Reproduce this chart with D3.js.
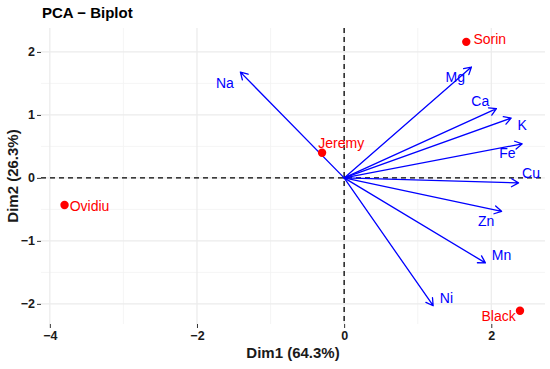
<!DOCTYPE html>
<html>
<head>
<meta charset="utf-8">
<script src="https://cdn.jsdelivr.net/npm/d3@7"></script>
<style>
  body { margin: 0; background: #fff; }
  text { font-family: "Liberation Sans", Arial, sans-serif; }
</style>
</head>
<body>
<div id="app"></div>
<script>
// individuals (rows) - coordinates on Dim1 / Dim2
const IND_NAMES = ['Ovidiu', 'Jeremy', 'Sorin', 'Black'];
const IND_X = [-3.80, -0.30, 1.66, 2.39];
const IND_Y = [-0.43, 0.40, 2.16, -2.11];
// where the repelled labels ended up (data units)
const IND_LABEL_X = [-3.46, -0.04, 1.98, 2.10];
const IND_LABEL_Y = [-0.44, 0.56, 2.21, -2.19];

// variables (columns) - arrow tips
const VAR_NAMES = ['Na', 'Mg', 'Ca', 'K', 'Fe', 'Cu', 'Zn', 'Mn', 'Ni'];
const VAR_X = [-1.41, 1.73, 2.07, 2.27, 2.42, 2.37, 2.14, 1.92, 1.21];
const VAR_Y = [1.68, 1.76, 1.10, 0.95, 0.54, -0.08, -0.53, -1.35, -2.03];
const VAR_LABEL_X = [-1.62, 1.51, 1.85, 2.42, 2.22, 2.54, 1.93, 2.14, 1.39];
const VAR_LABEL_Y = [1.51, 1.60, 1.22, 0.84, 0.40, 0.08, -0.68, -1.22, -1.90];

const X_TICKS = [-4, -2, 0, 2];
const Y_TICKS = [-2, -1, 0, 1, 2];
const X_MINOR = [-3, -1, 1];
const Y_MINOR = [-1.5, -0.5, 0.5, 1.5];

const TITLE = 'PCA \u2212 Biplot';
const X_TITLE = 'Dim1 (64.3%)';
const Y_TITLE = 'Dim2 (26.3%)';

const width = 550;
const height = 369;
const panel = {left: 41, right: 545, top: 28, bottom: 324};

const svg = d3.select('#app')
  .append('svg')
  .attr('width', width)
  .attr('height', height);

const x = d3.scaleLinear()
  .domain([-4.12, 2.73])
  .range([panel.left, panel.right]);
const y = d3.scaleLinear()
  .domain([-2.32, 2.38])
  .range([panel.bottom, panel.top]);

// minor grid
svg.append('g').selectAll('line')
  .data(X_MINOR)
  .join('line')
  .attr('x1', d => x(d)).attr('x2', d => x(d))
  .attr('y1', panel.top).attr('y2', panel.bottom)
  .style('stroke', '#f2f2f2').style('stroke-width', 0.8);
svg.append('g').selectAll('line')
  .data(Y_MINOR)
  .join('line')
  .attr('x1', panel.left).attr('x2', panel.right)
  .attr('y1', d => y(d)).attr('y2', d => y(d))
  .style('stroke', '#f2f2f2').style('stroke-width', 0.8);

// major grid
svg.append('g').selectAll('line')
  .data(X_TICKS)
  .join('line')
  .attr('x1', d => x(d)).attr('x2', d => x(d))
  .attr('y1', panel.top).attr('y2', panel.bottom)
  .style('stroke', '#ebebeb').style('stroke-width', 1.2);
svg.append('g').selectAll('line')
  .data(Y_TICKS)
  .join('line')
  .attr('x1', panel.left).attr('x2', panel.right)
  .attr('y1', d => y(d)).attr('y2', d => y(d))
  .style('stroke', '#ebebeb').style('stroke-width', 1.2);

// axes (ticks + labels only)
const xAxis = svg.append('g')
  .attr('transform', `translate(0, ${panel.bottom})`)
  .call(d3.axisBottom(x).tickValues(X_TICKS).tickSize(4).tickPadding(3)
    .tickFormat(d => d < 0 ? '\u2212' + Math.abs(d) : d));
const yAxis = svg.append('g')
  .attr('transform', `translate(${panel.left}, 0)`)
  .call(d3.axisLeft(y).tickValues(Y_TICKS).tickSize(4).tickPadding(2)
    .tickFormat(d => d < 0 ? '\u2212' + Math.abs(d) : d));
[xAxis, yAxis].forEach(a => {
  a.select('.domain').remove();
  a.selectAll('.tick line').style('stroke', '#333').style('stroke-width', 1);
  a.selectAll('.tick text')
    .style('font-family', '"Liberation Sans", Arial, sans-serif')
    .style('font-size', '12.5px')
    .style('font-weight', 'bold')
    .style('fill', '#1a1a1a');
});

// dashed reference lines at 0
svg.append('line')
  .attr('x1', panel.left).attr('x2', panel.right)
  .attr('y1', y(0)).attr('y2', y(0))
  .style('stroke', '#000').style('stroke-width', 1.3)
  .style('stroke-dasharray', '5,4');
svg.append('line')
  .attr('x1', x(0)).attr('x2', x(0))
  .attr('y1', panel.top).attr('y2', panel.bottom)
  .style('stroke', '#000').style('stroke-width', 1.3)
  .style('stroke-dasharray', '5,4');

// variable arrows
const vars = VAR_NAMES.map((name, i) => ({
  name, vx: VAR_X[i], vy: VAR_Y[i], lx: VAR_LABEL_X[i], ly: VAR_LABEL_Y[i]
}));
const headLen = 8;
const headAng = Math.PI / 6;
const arrows = svg.append('g').attr('id', 'arrows');
arrows.selectAll('path')
  .data(vars)
  .join('path')
  .attr('d', d => {
    const x0 = x(0), y0 = y(0), x1 = x(d.vx), y1 = y(d.vy);
    const a = Math.atan2(y1 - y0, x1 - x0);
    const ax = x1 - headLen * Math.cos(a - headAng);
    const ay = y1 - headLen * Math.sin(a - headAng);
    const bx = x1 - headLen * Math.cos(a + headAng);
    const by = y1 - headLen * Math.sin(a + headAng);
    return `M${x0},${y0}L${x1},${y1}M${ax},${ay}L${x1},${y1}L${bx},${by}`;
  })
  .style('fill', 'none')
  .style('stroke', '#0000ff')
  .style('stroke-width', 1.3)
  .style('stroke-linecap', 'round')
  .style('stroke-linejoin', 'round');
arrows.selectAll('text')
  .data(vars)
  .join('text')
  .attr('x', d => x(d.lx))
  .attr('y', d => y(d.ly))
  .attr('dy', '0.36em')
  .attr('text-anchor', 'middle')
  .style('font-size', '14px')
  .style('fill', '#0000ff')
  .text(d => d.name);

// individuals
const inds = IND_NAMES.map((name, i) => ({
  name, px: IND_X[i], py: IND_Y[i], lx: IND_LABEL_X[i], ly: IND_LABEL_Y[i]
}));
const points = svg.append('g').attr('id', 'individuals');
points.selectAll('circle')
  .data(inds)
  .join('circle')
  .attr('cx', d => x(d.px))
  .attr('cy', d => y(d.py))
  .attr('r', 4.2)
  .style('fill', '#ff0000');
points.selectAll('text')
  .data(inds)
  .join('text')
  .attr('x', d => x(d.lx))
  .attr('y', d => y(d.ly))
  .attr('dy', '0.36em')
  .attr('text-anchor', 'middle')
  .style('font-size', '14px')
  .style('fill', '#ff0000')
  .text(d => d.name);

// titles
svg.append('text')
  .attr('x', 42)
  .attr('y', 18)
  .style('font-size', '15px')
  .style('font-weight', 'bold')
  .style('fill', '#000')
  .text(TITLE);
svg.append('text')
  .attr('x', (panel.left + panel.right) / 2)
  .attr('y', 358)
  .attr('text-anchor', 'middle')
  .style('font-size', '15px')
  .style('font-weight', 'bold')
  .style('fill', '#1a1a1a')
  .text(X_TITLE);
svg.append('text')
  .attr('transform', `translate(18, ${(panel.top + panel.bottom) / 2}) rotate(-90)`)
  .attr('text-anchor', 'middle')
  .style('font-size', '15px')
  .style('font-weight', 'bold')
  .style('fill', '#1a1a1a')
  .text(Y_TITLE);
</script>
</body>
</html>
